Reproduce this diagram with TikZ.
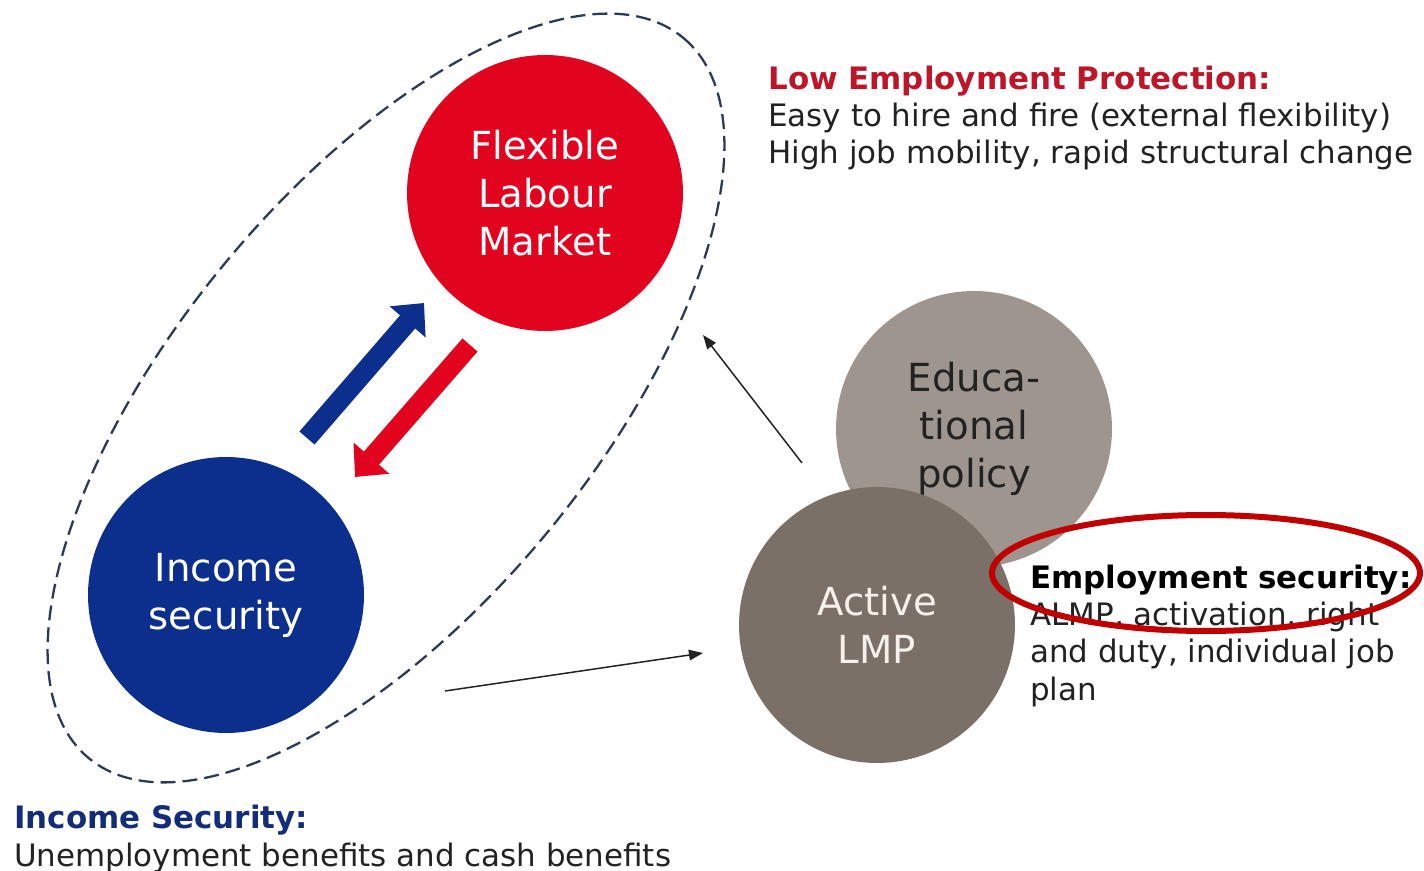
\documentclass[tikz,border=0pt]{standalone}
\usepackage{fontspec}
\setmainfont{DejaVu Sans}
\usetikzlibrary{arrows.meta}

\definecolor{flexred}{RGB}{226,4,30}
\definecolor{incblue}{RGB}{12,46,140}
\definecolor{edugrey}{RGB}{158,149,143}
\definecolor{lmpgrey}{RGB}{122,112,104}
\definecolor{lmptext}{RGB}{245,240,235}
\definecolor{titlered}{RGB}{190,22,40}
\definecolor{titleblue}{RGB}{20,45,120}
\definecolor{textdark}{RGB}{34,34,34}
\definecolor{dashblue}{RGB}{45,58,85}
\definecolor{markred}{RGB}{192,0,0}

\begin{document}
\begin{tikzpicture}[x=0.02cm,y=-0.02cm,
  disc/.style={circle,minimum size=5.52cm,inner sep=0pt,align=center,font=\fontsize{22}{27.3}\selectfont},
  note/.style={anchor=base west,align=left,inner sep=0pt,font=\fontsize{17.6}{21.2}\selectfont,text=textdark},
  fatarrow/.style={line width=0.4cm,-{Triangle[width=0.92cm,length=0.5cm]}},
  thinarrow/.style={line width=0.85pt,draw=textdark,-{Triangle[width=6pt,length=8pt]}}]
\useasboundingbox (0,0) rectangle (1424,871);

% dashed ring round the two left circles
\draw[dashblue,line width=1.3pt,dash pattern=on 8.5pt off 4pt,rotate around={50.5:(386,398)}] (386,398) ellipse [x radius=467,y radius=210];

\node[disc,fill=flexred,text=white] (flex) at (545,193) {Flexible\\Labour\\Market};
\node[disc,fill=incblue,text=white] (inc) at (226,595) {Income\\security};
\node[disc,fill=edugrey,text=textdark] (edu) at (974,429) {Educa-\\tional\\policy};
\node[disc,fill=lmpgrey,text=lmptext] (lmp) at (877,625) {Active\\LMP};

% thick arrows
\coordinate (bluetail) at (307,438);
\coordinate (bluetip) at (424,303);
\coordinate (redtail) at (470,345);
\coordinate (redtip) at (355,477);
\draw[fatarrow,incblue] (bluetail) -- (bluetip);
\draw[fatarrow,flexred] (redtail) -- (redtip);

% thin arrows
\coordinate (eduout) at (802,463);
\coordinate (ringin) at (703,335);
\coordinate (incout) at (445,691);
\coordinate (lmpin) at (703,653);
\draw[thinarrow] (eduout) -- (ringin);
\draw[thinarrow] (incout) -- (lmpin);

% text blocks, placed at the baseline of their last line
\node[note] (lowep) at (768,164) {\textbf{\color{titlered}Low Employment Protection:}\\Easy to hire and fire (external flexibility)\\High job mobility, rapid structural change};
\node[note] (empsec) at (1030,700) {\textbf{\color{black}Employment security:}\\ALMP, activation, right\\and duty, individual job\\plan};
\node[note] (incsec) at (14,866) {\textbf{\color{titleblue}Income Security:}\\Unemployment benefits and cash benefits};

% hand drawn mark
\draw[markred,line width=0.12cm] (1206,573) ellipse [x radius=214,y radius=58];
\end{tikzpicture}
\end{document}
